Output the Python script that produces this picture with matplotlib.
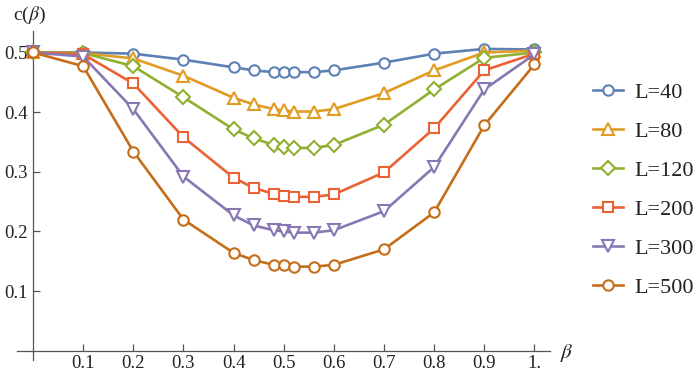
import matplotlib
matplotlib.use("Agg")
import matplotlib.pyplot as plt

beta = [0, 0.1, 0.2, 0.3, 0.4, 0.44, 0.48, 0.5, 0.52, 0.56, 0.6, 0.7, 0.8, 0.9, 1.0]
c_L40 = [0.5, 0.5, 0.498, 0.488, 0.475, 0.470, 0.467, 0.467, 0.467, 0.467, 0.470, 0.483, 0.498, 0.506, 0.505]
c_L80 = [0.5, 0.499, 0.490, 0.461, 0.424, 0.413, 0.405, 0.403, 0.401, 0.401, 0.405, 0.432, 0.470, 0.500, 0.503]
c_L120 = [0.5, 0.499, 0.477, 0.425, 0.371, 0.356, 0.345, 0.342, 0.340, 0.340, 0.345, 0.379, 0.438, 0.491, 0.500]
c_L200 = [0.5, 0.497, 0.448, 0.358, 0.290, 0.273, 0.263, 0.260, 0.258, 0.258, 0.262, 0.299, 0.373, 0.470, 0.498]
c_L300 = [0.5, 0.493, 0.405, 0.292, 0.227, 0.210, 0.202, 0.200, 0.198, 0.198, 0.202, 0.234, 0.308, 0.438, 0.497]
c_L500 = [0.5, 0.477, 0.334, 0.220, 0.164, 0.152, 0.144, 0.143, 0.141, 0.141, 0.144, 0.170, 0.232, 0.378, 0.480]

labels = ["L=40", "L=80", "L=120", "L=200", "L=300", "L=500"]
series = [c_L40, c_L80, c_L120, c_L200, c_L300, c_L500]
colors = ["#5E81B5", "#E19C24", "#8FB032", "#EB6235", "#8778B3", "#C56E1A"]
markers = ["o", "^", "D", "s", "v", "o"]
msizes = [7.5, 8.5, 7, 7.5, 8.5, 7.5]

xticks = [0.1, 0.2, 0.3, 0.4, 0.5, 0.6, 0.7, 0.8, 0.9, 1.0]
xticklabels = ["0.1", "0.2", "0.3", "0.4", "0.5", "0.6", "0.7", "0.8", "0.9", "1."]
yticks = [0.1, 0.2, 0.3, 0.4, 0.5]
yticklabels = ["0.1", "0.2", "0.3", "0.4", "0.5"]

plt.rcParams['font.family'] = ['Liberation Serif', 'DejaVu Serif']
plt.rcParams['mathtext.fontset'] = 'stix'

fig = plt.figure(figsize=(6.98, 3.76), dpi=100)
left, right = 17 / 698, 550 / 698
bottom, top = 1 - 360 / 376, 1 - 31 / 376
ax = fig.add_axes([left, bottom, right - left, top - bottom])

handles = []
for ys, col, mk, ms, lab in zip(series, colors, markers, msizes, labels):
    h, = ax.plot(beta, ys, color=col, marker=mk, markersize=ms, markerfacecolor='white',
                 markeredgecolor=col, markeredgewidth=1.5, linewidth=1.9, label=lab,
                 clip_on=False, zorder=3)
    handles.append(h)

ax.set_xlim(-0.032, 1.031)
ax.set_ylim(-0.0155, 0.536)

for s in ['top', 'right']:
    ax.spines[s].set_visible(False)
ax.spines['left'].set_position(('data', 0))
ax.spines['bottom'].set_position(('data', 0))
for s in ['left', 'bottom']:
    ax.spines[s].set_color('#555555')
    ax.spines[s].set_linewidth(0.9)

ax.set_xticks(xticks)
ax.set_xticklabels(xticklabels)
ax.set_yticks(yticks)
ax.set_yticklabels(yticklabels)
ax.tick_params(axis='both', direction='in', length=5, width=0.9, color='#555555',
               labelsize=13.5, labelcolor='#222222')
ax.tick_params(axis='x', pad=3)
ax.tick_params(axis='y', pad=4)

fig.text(13 / 698, 1 - 15 / 376, r"c($\beta$)", fontsize=14, va='center', ha='left', color='#222222')
fig.text(567 / 698, 1 - 353 / 376, r"$\beta$", fontsize=15, va='center', ha='center', color='#222222')

fig.legend(handles=handles, labels=labels, loc='upper left',
           bbox_to_anchor=(593 / 698, 1 - 82 / 376), frameon=False, fontsize=16,
           handlelength=1.35, handletextpad=0.5, labelspacing=0.83, borderpad=0,
           borderaxespad=0, labelcolor='#222222')

fig.savefig("out.png", dpi=100)
